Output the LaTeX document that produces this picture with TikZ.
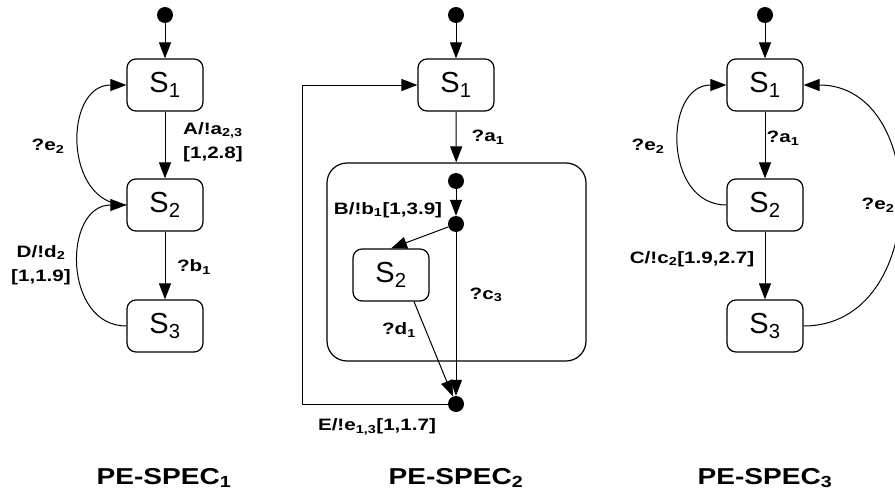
\documentclass[tikz,border=0pt]{standalone}
\usepackage{fontspec}
\setmainfont{Liberation Sans}
\newfontfamily\statefam{Liberation Sans}
\newfontfamily\labelfam[FakeStretch=1.25]{Liberation Sans}
\newfontfamily\titlefam[FakeStretch=1.22]{Liberation Sans}
\usetikzlibrary{arrows.meta}

\tikzset{
    state/.style={draw, line width=1.2pt, rounded corners=9pt, minimum width=76pt,
        minimum height=52pt, inner sep=0pt, font=\statefam\fontsize{29}{34}\selectfont},
    superstate/.style={draw, line width=1.2pt, rounded corners=20pt, minimum width=259pt,
        minimum height=198pt, inner sep=0pt},
    dot/.style={circle, fill, inner sep=0pt, minimum size=16pt},
    trans/.style={-{Triangle[length=16pt,width=12pt]}, line width=1pt},
    lbl/.style={font=\labelfam\bfseries\fontsize{16.5}{24}\selectfont, inner sep=1pt, align=center},
    spec/.style={font=\titlefam\bfseries\fontsize{23}{28}\selectfont}
}

\begin{document}
\begin{tikzpicture}[x=1pt, y=-1pt]

        \useasboundingbox (0,0) rectangle (895,498);

        % PE-SPEC 1
        \node[dot] (p1init) at (165,15) {};
        \node[state] (p1s1) at (165,85) {S\textsubscript{1}};
        \node[state] (p1s2) at (165,205) {S\textsubscript{2}};
        \node[state] (p1s3) at (165,326) {S\textsubscript{3}};

        \draw[trans] (p1init) -- (p1s1);
        \draw[trans] (p1s1) -- (p1s2);
        \draw[trans] (p1s2) -- (p1s3);
        \draw[trans] (p1s2.west) to[out=180, in=180, looseness=1.35] (p1s1.west);
        \draw[trans] (p1s3.west) to[out=180, in=180, looseness=1.35] (p1s2.west);

        \node[lbl] (p1e2) at (48,146) {?e\textsubscript{2}};
        \node[lbl] (p1a23) at (213,142) {A/!a\textsubscript{2,3}\\{}[1,2.8]};
        \node[lbl] (p1d2) at (41,265) {D/!d\textsubscript{2}\\{}[1,1.9]};
        \node[lbl] (p1b1) at (194,267) {?b\textsubscript{1}};

        \node[spec] (spec1) at (164,478) {PE-SPEC\textsubscript{1}};

        % PE-SPEC 2
        \node[dot] (p2init) at (456,15) {};
        \node[state] (p2s1) at (456,85) {S\textsubscript{1}};
        \node[superstate] (p2comp) at (456.5,262) {};
        \node[dot] (p2inner) at (456,181) {};
        \node[dot] (p2jn) at (456,224) {};
        \node[state] (p2s2) at (391,275) {S\textsubscript{2}};
        \node[dot] (p2fin) at (456,404) {};
        \coordinate (p2back) at (302,404);

        \draw[trans] (p2init) -- (p2s1);
        \draw[trans] (p2s1) -- (p2comp);
        \draw[trans] (p2inner) -- (p2jn);
        \draw[trans] (p2jn) -- (p2s2.north);
        \draw[trans] (p2jn) -- (p2fin);
        \draw[trans] ([xshift=23pt]p2s2.south) -- (p2fin);
        \draw[trans] (p2fin) -- (p2back) |- (p2s1.west);

        \node[lbl] (p2a1) at (488,137) {?a\textsubscript{1}};
        \node[lbl] (p2b1) at (388,210) {B/!b\textsubscript{1}[1,3.9]};
        \node[lbl] (p2c3) at (486,295) {?c\textsubscript{3}};
        \node[lbl] (p2d1) at (399,330) {?d\textsubscript{1}};
        \node[lbl] (p2e13) at (377,427) {E/!e\textsubscript{1,3}[1,1.7]};

        \node[spec] (spec2) at (456,478) {PE-SPEC\textsubscript{2}};

        % PE-SPEC 3
        \node[dot] (p3init) at (765,15) {};
        \node[state] (p3s1) at (765,85) {S\textsubscript{1}};
        \node[state] (p3s2) at (765,205) {S\textsubscript{2}};
        \node[state] (p3s3) at (765,326) {S\textsubscript{3}};

        \draw[trans] (p3init) -- (p3s1);
        \draw[trans] (p3s1) -- (p3s2);
        \draw[trans] (p3s2) -- (p3s3);
        \draw[trans] (p3s2.west) to[out=180, in=180, looseness=1.35] (p3s1.west);
        \draw[trans] (p3s3.east) to[out=0, in=0, looseness=1.35] (p3s1.east);

        \node[lbl] (p3e2l) at (648,146) {?e\textsubscript{2}};
        \node[lbl] (p3a1) at (783,138) {?a\textsubscript{1}};
        \node[lbl] (p3c2) at (692,259) {C/!c\textsubscript{2}[1.9,2.7]};
        \node[lbl] (p3e2r) at (878,205) {?e\textsubscript{2}};

        \node[spec] (spec3) at (765,478) {PE-SPEC\textsubscript{3}};

    \end{tikzpicture}
\end{document}
